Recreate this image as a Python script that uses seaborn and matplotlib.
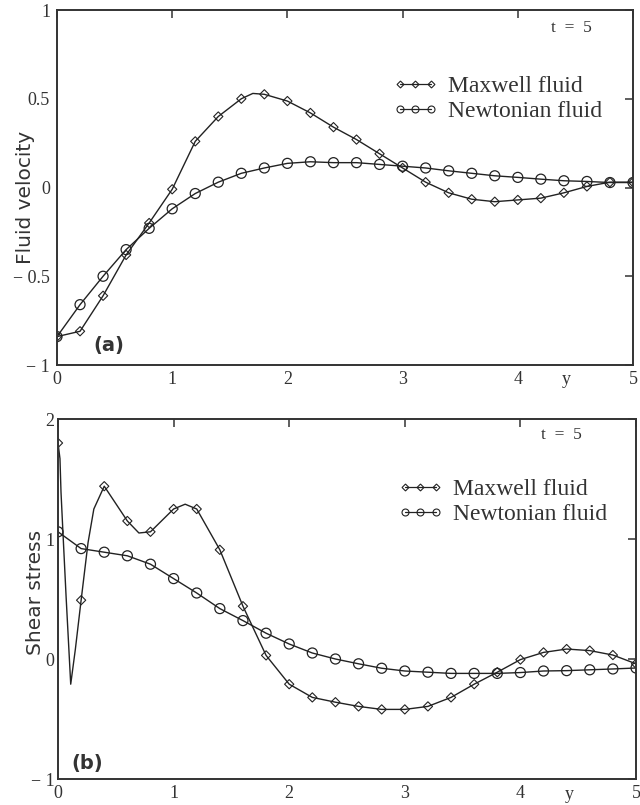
import numpy as np
import pandas as pd
import matplotlib.pyplot as plt
from matplotlib.lines import Line2D
import seaborn as sns

# grid of y positions where markers sit
y_pos = np.round(np.arange(0, 5.01, 0.2), 1)

# (a) fluid velocity, t = 5
vel_maxwell = [-0.84, -0.81, -0.61, -0.38, -0.20, -0.01, 0.26, 0.40, 0.50, 0.525,
               0.487, 0.42, 0.34, 0.27, 0.19, 0.11, 0.03, -0.03, -0.066, -0.08,
               -0.07, -0.06, -0.03, 0.006, 0.03, 0.03]
vel_newton = [-0.84, -0.66, -0.50, -0.35, -0.23, -0.12, -0.034, 0.03, 0.08, 0.11,
              0.136, 0.145, 0.14, 0.14, 0.13, 0.12, 0.11, 0.094, 0.08, 0.066,
              0.057, 0.047, 0.038, 0.034, 0.028, 0.028]

# (b) shear stress, t = 5
shear_maxwell = [1.80, 0.49, 1.44, 1.15, 1.06, 1.25, 1.25, 0.91, 0.44, 0.03,
                 -0.21, -0.32, -0.36, -0.395, -0.42, -0.42, -0.395, -0.32, -0.21, -0.11,
                 -0.005, 0.055, 0.083, 0.07, 0.033, -0.04]
shear_newton = [1.06, 0.92, 0.89, 0.86, 0.79, 0.67, 0.55, 0.42, 0.32, 0.215,
                0.125, 0.05, 0.0, -0.04, -0.077, -0.10, -0.11, -0.12, -0.12, -0.12,
                -0.113, -0.10, -0.097, -0.09, -0.083, -0.075]
# extra curve points read between markers (sharp dip near the wall, bumps)
shear_maxwell_extra_y = [0.017, 0.026, 0.043, 0.07, 0.087, 0.11, 0.15, 0.26, 0.31, 0.7, 1.1]
shear_maxwell_extra = [1.67, 1.39, 1.05, 0.52, 0.21, -0.21, 0.08, 0.97, 1.25, 1.05, 1.29]
vel_maxwell_extra_y = [1.7]
vel_maxwell_extra = [0.53]

LINE = "#222222"
SERIF = ["Liberation Serif", "DejaVu Serif"]

sns.set_theme(style="white")
plt.rcParams["font.family"] = ["DejaVu Sans"]

fig = plt.figure(figsize=(6.4, 8.05), dpi=100)
ax1 = fig.add_axes([57 / 640, 1 - 365 / 805, 576 / 640, 355 / 805])
ax2 = fig.add_axes([58 / 640, 1 - 779 / 805, 578 / 640, 360 / 805])


def draw(ax, yv, maxwell, newton, extra_y, extra):
    line_m = pd.DataFrame({"y": list(yv) + extra_y, "v": list(maxwell) + extra})
    line_m = line_m.sort_values("y")
    sns.lineplot(x=line_m["y"], y=line_m["v"], ax=ax, color=LINE, lw=1.0,
                 sort=False, estimator=None)
    sns.lineplot(x=yv, y=newton, ax=ax, color=LINE, lw=1.0, estimator=None)
    sns.scatterplot(x=yv, y=maxwell, ax=ax, marker="D", s=22,
                    facecolors="none", edgecolor=LINE, linewidth=0.8)
    sns.scatterplot(x=yv, y=newton, ax=ax, marker="o", s=52,
                    facecolors="none", edgecolor=LINE, linewidth=0.9)
    for c in ax.collections:
        c.set_facecolor("none")


draw(ax1, y_pos, vel_maxwell, vel_newton, vel_maxwell_extra_y, vel_maxwell_extra)
draw(ax2, y_pos, shear_maxwell, shear_newton, shear_maxwell_extra_y, shear_maxwell_extra)

handles = [
    Line2D([], [], color=LINE, lw=0.9, marker="D", ms=3.5, mfc="none", mec=LINE, mew=0.8),
    Line2D([], [], color=LINE, lw=0.9, marker="o", ms=5, mfc="none", mec=LINE, mew=0.8),
]
labels = ["Maxwell fluid", "Newtonian fluid"]

panels = [
    (ax1, (-1, 1), [1, 0.5, 0, -0.5, -1], ["1", "0.5", "0", "\u2212 0.5", "\u2212 1"],
     "Fluid velocity", -0.045, 0.473, "(a)", 0.0625, 0.056, 0.857, 0.949, (0.583, 0.815), 5),
    (ax2, (-1, 2), [2, 1, 0, -1], ["2", "1", "0", "\u2212 1"],
     "Shear stress", -0.03, 0.517, "(b)", 0.024, 0.044, 0.835, 0.956, (0.588, 0.835), 2.5),
]

for (ax, ylim, yt, ytl, ylab, lx, ly, tag, tx, ty, sx, sy, lg, ypad) in panels:
    ax.set_xlim(0, 5)
    ax.set_ylim(*ylim)
    ax.set_xticks(range(6))
    ax.set_xticklabels([str(i) for i in range(6)], family=SERIF, fontsize=13, color="#333")
    ax.set_yticks(yt)
    ax.set_yticklabels(ytl, family=SERIF, fontsize=13, color="#333")
    ax.tick_params(direction="in", length=6, width=1.1, color="#333",
                   top=True, right=True)
    ax.tick_params(axis="x", pad=4)
    ax.tick_params(axis="y", pad=ypad)
    for sp in ax.spines.values():
        sp.set_linewidth(1.4)
        sp.set_color("#333")
    ax.set_xlabel("")
    ax.set_ylabel("")
    ax.text(lx, ly, ylab, transform=ax.transAxes, rotation=90, rotation_mode="anchor",
            ha="center", va="baseline", fontsize=14.5, color="#333")
    ax.text(tx, ty, tag, transform=ax.transAxes, ha="left", va="center",
            fontsize=14, fontweight="bold", color="#333")
    ax.text(sx, sy, "t  =  5", transform=ax.transAxes, ha="left", va="center",
            family=SERIF, fontsize=12.5, color="#333")
    ax.text(4.42, -0.042, "y", transform=ax.get_xaxis_transform(), ha="center", va="center",
            family=SERIF, fontsize=13, color="#333")
    ax.legend(handles, labels, loc="upper left", bbox_to_anchor=lg, frameon=False,
              prop={"family": SERIF, "size": 17}, numpoints=3, handlelength=1.9,
              handletextpad=0.45, labelspacing=0.15, borderpad=0, borderaxespad=0,
              labelcolor="#333")

fig.savefig("out.png", dpi=100)
